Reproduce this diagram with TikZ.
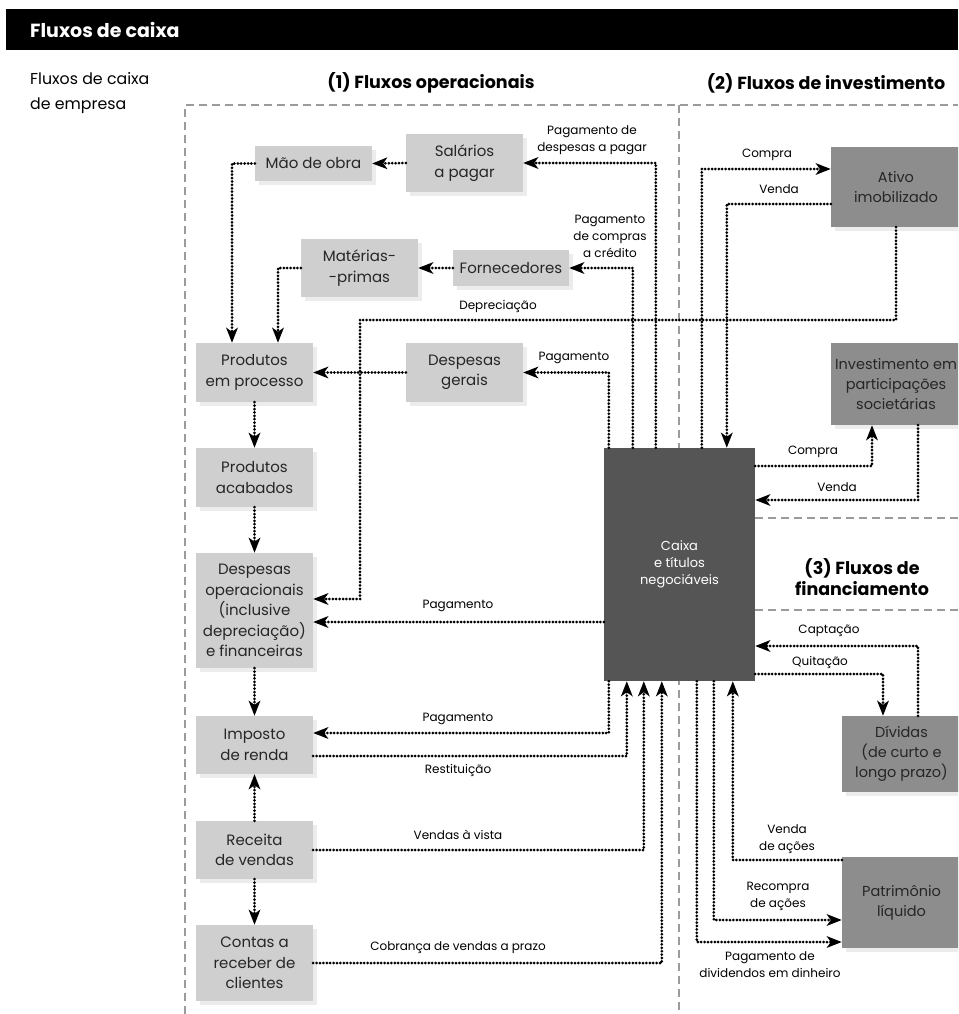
\documentclass[tikz,border=0pt]{standalone}
\usepackage{fontspec}
\setmainfont{Poppins}
\usetikzlibrary{arrows.meta,calc,shadows}

\definecolor{boxlight}{RGB}{207,207,207}
\definecolor{boxmid}{RGB}{141,141,141}
\definecolor{boxdark}{RGB}{85,85,85}
\definecolor{shade}{RGB}{236,236,236}
\definecolor{border}{RGB}{155,155,155}

\tikzset{
	lightbox/.style={rectangle, fill=boxlight, text=black!85, align=center, inner sep=0pt,
		font=\fontsize{15}{20.5}\selectfont,
		drop shadow={shadow xshift=4pt, shadow yshift=-4pt, fill=shade, opacity=1}},
	midbox/.style={lightbox, fill=boxmid, font=\fontsize{14.5}{20}\selectfont},
	cashbox/.style={rectangle, fill=boxdark, text=white, align=center, inner sep=0pt,
		font=\fontsize{13}{17}\selectfont},
	link/.style={line width=3pt, line cap=round, dash pattern=on 0pt off 3.4pt},
	flow/.style={link, -{Stealth[length=15pt,width=11.5pt,inset=4pt]}},
	flowlabel/.style={font=\fontsize{12}{17}\selectfont, align=center, inner sep=0pt},
	region/.style={draw=border, line width=1.8pt, dash pattern=on 8pt off 5pt},
	heading/.style={font=\fontsize{17.5}{21}\selectfont\bfseries, align=center, inner sep=0pt}
}

\begin{document}
\begin{tikzpicture}[x=1pt, y=-1pt]
	%%%%% START %%%%%
	\useasboundingbox (0,0) rectangle (958,1014);
	\clip (0,0) rectangle (958,1014);
	
	\fill[black] (6,9) rectangle (958,50);
	\node[anchor=west, text=white, font=\fontsize{19}{22}\selectfont\bfseries, inner sep=0pt] (title) at (30,30) {Fluxos de caixa};
	\node[anchor=west, align=left, font=\fontsize{15.8}{25}\selectfont, inner sep=0pt] (company) at (30,93) {Fluxos de caixa\\de empresa};
	
	\draw[region] (185,1014) -- (185,105) -- (958,105);
	\draw[region] (679,105) -- (679,1014);
	\draw[region] (755,518) -- (958,518);
	\draw[region] (755,610) -- (958,610);
	
	\node[heading] (opflows) at (431,83) {(1) Fluxos operacionais};
	\node[heading] (invflows) at (826,83) {(2) Fluxos de investimento};
	\node[heading] (finflows) at (862,577) {(3) Fluxos de\\financiamento};
	
	\node[lightbox, minimum width=117, minimum height=35] (mao) at (313.5,163.5) {Mão de obra};
	\node[lightbox, minimum width=117, minimum height=58] (salarios) at (464.5,163) {Salários\\a pagar};
	\node[lightbox, minimum width=117, minimum height=58] (materias) at (359.5,268) {Matérias-\\-primas};
	\node[lightbox, minimum width=116, minimum height=36] (fornec) at (511,268) {Fornecedores};
	\node[lightbox, minimum width=117, minimum height=59] (desger) at (464.5,372.5) {Despesas\\gerais};
	\node[lightbox, minimum width=117, minimum height=59] (prodproc) at (254.5,372.5) {Produtos\\em processo};
	\node[lightbox, minimum width=117, minimum height=59] (prodacab) at (254.5,477.5) {Produtos\\acabados};
	\node[lightbox, minimum width=117, minimum height=115] (despop) at (254.5,610.5) {Despesas\\operacionais\\(inclusive\\depreciação)\\e financeiras};
	\node[lightbox, minimum width=117, minimum height=58] (imposto) at (254.5,745) {Imposto\\de renda};
	\node[lightbox, minimum width=117, minimum height=58] (receita) at (254.5,850) {Receita\\de vendas};
	\node[lightbox, minimum width=117, minimum height=76] (contas) at (254.5,963) {Contas a\\receber de\\clientes};
	
	\node[cashbox, minimum width=151, minimum height=233] (caixa) at (679.5,564.5) {Caixa\\e títulos\\negociáveis};
	
	\node[midbox, minimum width=130, minimum height=80] (ativo) at (896,187) {Ativo\\imobilizado};
	\node[midbox, minimum width=130, minimum height=82] (invest) at (896,384) {Investimento em\\participações\\societárias};
	\node[midbox, minimum width=119, minimum height=76] (dividas) at (901.5,754) {Dívidas\\(de curto e\\longo prazo)};
	\node[midbox, minimum width=119, minimum height=91] (patrim) at (901.5,902.5) {Patrimônio\\líquido};
	
	% production chain
	\draw[flow] (mao.west) -| ([xshift=-22.5pt]prodproc.north);
	\draw[flow] (materias.west) -| ([xshift=23.5pt]prodproc.north);
	\draw[flow] (salarios.west) -- (mao.east);
	\draw[flow] (fornec.west) -- (materias.east);
	\draw[flow] (desger.west) -- (prodproc.east);
	\draw[flow] (prodproc.south) -- (prodacab.north);
	\draw[flow] (prodacab.south) -- (despop.north);
	\draw[flow] (despop.south) -- (imposto.north);
	\draw[flow] (receita.north) -- (imposto.south);
	\draw[flow] (receita.south) -- (contas.north);
	
	% out of the top of caixa
	\draw[flow] ([xshift=5pt]caixa.north west) |- (desger.east);
	\draw[flow] ([xshift=29pt]caixa.north west) |- (fornec.east);
	\draw[flow] ([xshift=52pt]caixa.north west) |- (salarios.east);
	\draw[flow] ([xshift=98pt]caixa.north west) |- ([yshift=18pt]ativo.west);
	\draw[flow] ([yshift=-17pt]ativo.west) -| ([xshift=123pt]caixa.north west);
	
	\coordinate (deprturn) at (360,320);
	\draw[flow] (ativo.south) |- (deprturn) |- ([yshift=11.5pt]despop.east);
	
	% right side of caixa
	\draw[flow] ([yshift=98.5pt]caixa.east) -| ([xshift=-24pt]invest.south);
	\draw[flow] ([xshift=22pt]invest.south) |- ([yshift=64.5pt]caixa.east);
	\draw[flow] ([xshift=16.5pt]dividas.north) |- ([yshift=-81.5pt]caixa.east);
	\draw[flow] ([yshift=-109.5pt]caixa.east) -| ([xshift=-18.5pt]dividas.north);
	
	% left and bottom of caixa
	\draw[flow] ([yshift=-57.5pt]caixa.west) -- ([yshift=-11.5pt]despop.east);
	\draw[flow] ([xshift=5pt]caixa.south west) |- ([yshift=12pt]imposto.east);
	\draw[flow] ([yshift=-11pt]imposto.east) -| ([xshift=23pt]caixa.south west);
	\draw[flow] (receita.east) -| ([xshift=40pt]caixa.south west);
	\draw[flow] (contas.east) -| ([xshift=58pt]caixa.south west);
	\draw[flow] ([xshift=93pt]caixa.south west) |- ([yshift=-39.5pt]patrim.west);
	\draw[flow] ([xshift=110pt]caixa.south west) |- ([yshift=-17.5pt]patrim.west);
	\draw[flow] ([yshift=42.5pt]patrim.west) -| ([xshift=129pt]caixa.south west);
	
	% labels
	\node[flowlabel] (lsal) at (592,140.5) {Pagamento de\\despesas a pagar};
	\node[flowlabel] (lforn) at (610,236) {Pagamento\\de compras\\a crédito};
	\node[flowlabel] (ldesg) at (574,358) {Pagamento};
	\node[flowlabel] (ldepr) at (498,306) {Depreciação};
	\node[flowlabel] (latc) at (767,155) {Compra};
	\node[flowlabel] (latv) at (779,189) {Venda};
	\node[flowlabel] (linvc) at (813,452) {Compra};
	\node[flowlabel] (linvv) at (837,487) {Venda};
	\node[flowlabel] (lcapt) at (829,631) {Captação};
	\node[flowlabel] (lquit) at (820,662) {Quitação};
	\node[flowlabel] (ldesop) at (458,606) {Pagamento};
	\node[flowlabel] (limpp) at (458,719) {Pagamento};
	\node[flowlabel] (limpr) at (458,770) {Restituição};
	\node[flowlabel] (lvista) at (458,835) {Vendas à vista};
	\node[flowlabel] (lprazo) at (458,948) {Cobrança de vendas a prazo};
	\node[flowlabel] (lvacoes) at (787,839) {Venda\\de ações};
	\node[flowlabel] (lracoes) at (778,896.5) {Recompra\\de ações};
	\node[flowlabel] (ldiv) at (770,965) {Pagamento de\\dividendos em dinheiro};
	
	%%%%% END %%%%%
\end{tikzpicture}
\end{document}
